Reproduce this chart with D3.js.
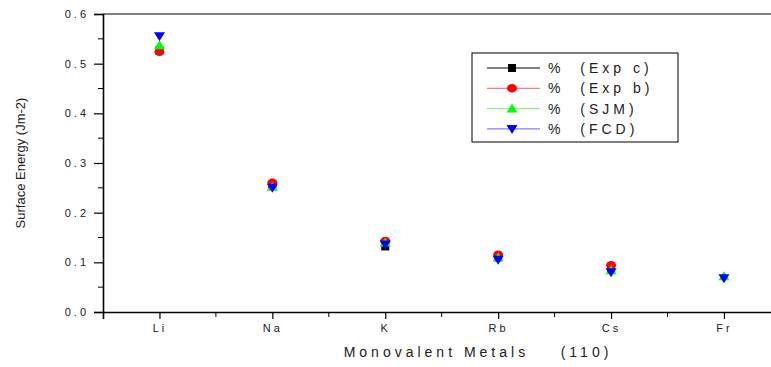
<!DOCTYPE html>
<html>
<head>
<meta charset="utf-8">
<script src="https://cdn.jsdelivr.net/npm/d3@7"></script>
<style>
  body { margin: 0; background: #fff; }
  text { font-family: "Liberation Sans", Arial, sans-serif; }
</style>
</head>
<body>
<div id="maincontent"></div>
<script>
// categories and series (null = no point)
var metals = ["Li", "Na", "K", "Rb", "Cs", "Fr"];
var expC = [0.527, 0.256, 0.132, 0.110, 0.088, null];
var expB = [0.524, 0.260, 0.143, 0.115, 0.094, null];
var sjm  = [0.537, 0.252, 0.140, 0.110, 0.084, 0.072];
var fcd  = [0.555, 0.250, 0.136, 0.105, 0.080, 0.068];
var yTicks = [0, 0.1, 0.2, 0.3, 0.4, 0.5, 0.6];

var w = 771, h = 367;
var padL = 103, padT = 14, padB = 312;

var svg = d3.select("#maincontent").append("svg")
  .attr("width", w).attr("height", h);

// x: category index, Li at 1
var x = d3.scaleLinear().domain([0.5, 6.9]).range([padL, padL + 6.4 * 112.9]);
var y = d3.scaleLinear().domain([0, 0.6]).range([padB, padT]);

// top frame line
svg.append("line")
  .attr("x1", padL).attr("x2", w).attr("y1", padT).attr("y2", padT)
  .attr("stroke", "#000").attr("stroke-width", 1);

// y axis
var yAxis = d3.axisLeft(y).tickValues(yTicks).tickSize(9).tickPadding(5)
  .tickFormat(d3.format(".1f"));
var gy = svg.append("g").attr("transform", "translate(" + padL + ",0)").call(yAxis);
gy.selectAll("line.minor")
  .data(d3.range(0.05, 0.6, 0.1)).enter()
  .append("line").attr("class", "minor")
  .attr("x1", 0).attr("x2", -5)
  .attr("y1", function(d) { return y(d); }).attr("y2", function(d) { return y(d); })
  .attr("stroke", "#000");

// x axis
var xAxis = d3.axisBottom(x).tickValues([1, 2, 3, 4, 5, 6]).tickSize(7).tickPadding(5)
  .tickFormat(function(d) { return metals[d - 1]; });
var gx = svg.append("g").attr("transform", "translate(0," + padB + ")").call(xAxis);
gx.selectAll("line.minor")
  .data([1.5, 2.5, 3.5, 4.5, 5.5, 6.5]).enter()
  .append("line").attr("class", "minor")
  .attr("x1", function(d) { return x(d); }).attr("x2", function(d) { return x(d); })
  .attr("y1", 0).attr("y2", 5)
  .attr("stroke", "#000");

[gx, gy].forEach(function(g) {
  g.select(".domain").attr("stroke", "#000").attr("stroke-width", 1.6);
  g.selectAll(".tick line").attr("stroke", "#000").attr("stroke-width", 1.2);
  g.selectAll(".tick text").attr("font-size", "11px").attr("fill", "#222")
    .style("letter-spacing", "3px")
    .attr("font-family", "Liberation Sans, Arial, sans-serif");
});

// axis titles
svg.append("text")
  .attr("x", 478).attr("y", 357)
  .attr("text-anchor", "middle")
  .attr("font-size", "14px").attr("fill", "#222")
  .style("letter-spacing", "4px")
  .style("white-space", "pre")
  .text("Monovalent Metals    (110)");

svg.append("text")
  .attr("transform", "translate(25," + ((padT + padB) / 2) + ") rotate(-90)")
  .attr("text-anchor", "middle")
  .attr("font-size", "13px").attr("fill", "#222")
  .text("Surface Energy (Jm-2)");

// marker shapes
function marker(g, type, color) {
  if (type == "square") {
    g.append("rect").attr("x", -4).attr("y", -4).attr("width", 8).attr("height", 8).attr("fill", color);
  } else if (type == "circle") {
    g.append("ellipse").attr("rx", 5).attr("ry", 4.3).attr("fill", color);
  } else if (type == "up") {
    g.append("path").attr("d", "M0,-5L5.5,4L-5.5,4Z").attr("fill", color);
  } else {
    g.append("path").attr("d", "M0,5L5.5,-4L-5.5,-4Z").attr("fill", color);
  }
}

var series = [
  { name: "%  (Exp c)", values: expC, color: "#000000", type: "square" },
  { name: "%  (Exp b)", values: expB, color: "#ff0000", type: "circle" },
  { name: "%  (SJM)", values: sjm, color: "#00ff00", type: "up" },
  { name: "%  (FCD)", values: fcd, color: "#0000ff", type: "down" }
];

series.forEach(function(s) {
  var pts = s.values.map(function(v, i) { return [i + 1, v]; })
    .filter(function(d) { return d[1] !== null; });
  svg.selectAll("g.pt-" + s.type)
    .data(pts).enter()
    .append("g").attr("class", "pt-" + s.type)
    .attr("transform", function(d) { return "translate(" + x(d[0]) + "," + y(d[1]) + ")"; })
    .each(function() { marker(d3.select(this), s.type, s.color); });
});

// legend
var lg = svg.append("g").attr("transform", "translate(472,53)");
lg.append("rect").attr("width", 206).attr("height", 89)
  .attr("fill", "#fff").attr("stroke", "#000").attr("stroke-width", 1);
var lightLine = { "#000000": "#000", "#ff0000": "#ff6060", "#00ff00": "#60ff60", "#0000ff": "#6060ff" };
series.forEach(function(s, i) {
  var row = lg.append("g").attr("transform", "translate(0," + (15 + i * 20.3) + ")");
  row.append("line").attr("x1", 15).attr("x2", 68).attr("y1", 0).attr("y2", 0)
    .attr("stroke", lightLine[s.color]).attr("stroke-width", 1);
  var m = row.append("g").attr("transform", "translate(40,0)");
  marker(m, s.type, s.color);
  row.append("text").attr("x", 76).attr("y", 5)
    .attr("font-size", "14px").attr("fill", "#222")
    .style("letter-spacing", "4px").style("white-space", "pre")
    .text(s.name);
});
</script>
</body>
</html>
